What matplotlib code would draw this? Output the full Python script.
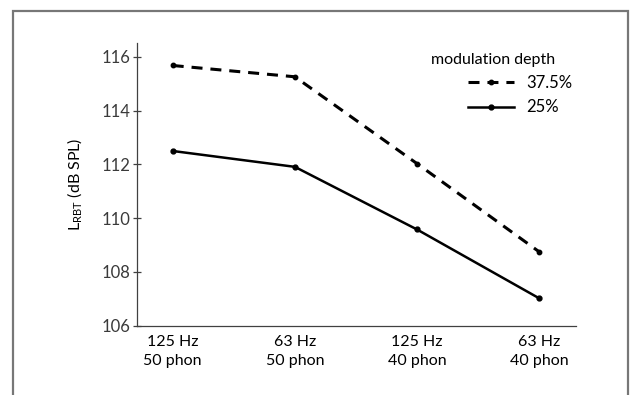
import matplotlib
matplotlib.use('Agg')
import matplotlib.pyplot as plt
from matplotlib.patches import Rectangle

conditions = ['125 Hz\n50 phon', '63 Hz\n50 phon', '125 Hz\n40 phon', '63 Hz\n40 phon']
depth_375 = [115.68, 115.26, 112.03, 108.75]
depth_25 = [112.50, 111.91, 109.58, 107.02]
y_ticks = [106, 108, 110, 112, 114, 116]

plt.rcParams['font.family'] = ['Lato', 'DejaVu Sans']
plt.rcParams['mathtext.fontset'] = 'custom'
plt.rcParams['mathtext.rm'] = 'Lato'

text_color = '#3a3a3a'

fig = plt.figure(figsize=(6.3, 3.95), dpi=100)
ax = fig.add_axes([0.2167, 0.1754, 0.914 - 0.2167, 0.890 - 0.1754])

x = range(len(conditions))
ax.plot(x, depth_375, color='black', linestyle=(0, (3.6, 2.6)), linewidth=2.2,
        marker='o', markersize=3.2, label='37.5%')
ax.plot(x, depth_25, color='black', linestyle='-', linewidth=1.8,
        marker='o', markersize=3.5, label='25%')

ax.set_xlim(-0.296, 3.30)
ax.set_ylim(106, 116.5)
ax.set_yticks(y_ticks)
ax.set_xticks(list(x))
ax.set_xticklabels(conditions, linespacing=1.45)

for side in ['top', 'right']:
    ax.spines[side].set_visible(False)
for side in ['left', 'bottom']:
    ax.spines[side].set_color('#404040')
    ax.spines[side].set_linewidth(0.9)

ax.tick_params(axis='y', direction='inout', length=6, width=0.9, color='#404040',
               labelsize=12, labelcolor=text_color, pad=1)
ax.tick_params(axis='x', length=0, labelsize=11.5, labelcolor='black', pad=7)

ax.set_ylabel(r'L$_{\mathrm{RBT}}$ (dB SPL)', fontsize=11.5, color='black', labelpad=12)

# legend title drawn on its own, entries below it
ax.text(0.8115, 0.94, 'modulation depth', transform=ax.transAxes, ha='center',
        va='center', fontsize=11.5, color='black')
ax.legend(loc='upper left', bbox_to_anchor=(0.7546, 0.888), frameon=False,
          fontsize=12, handlelength=2.75, handletextpad=0.75, borderpad=0,
          borderaxespad=0, labelspacing=0.5)

# outer gray frame
fig.patches.append(Rectangle((13 / 630, -0.1), (628 - 13) / 630, 1.1 - 11 / 395,
                             transform=fig.transFigure, fill=False,
                             edgecolor='#777777', linewidth=1.6))

fig.savefig('out.png', dpi=100)
